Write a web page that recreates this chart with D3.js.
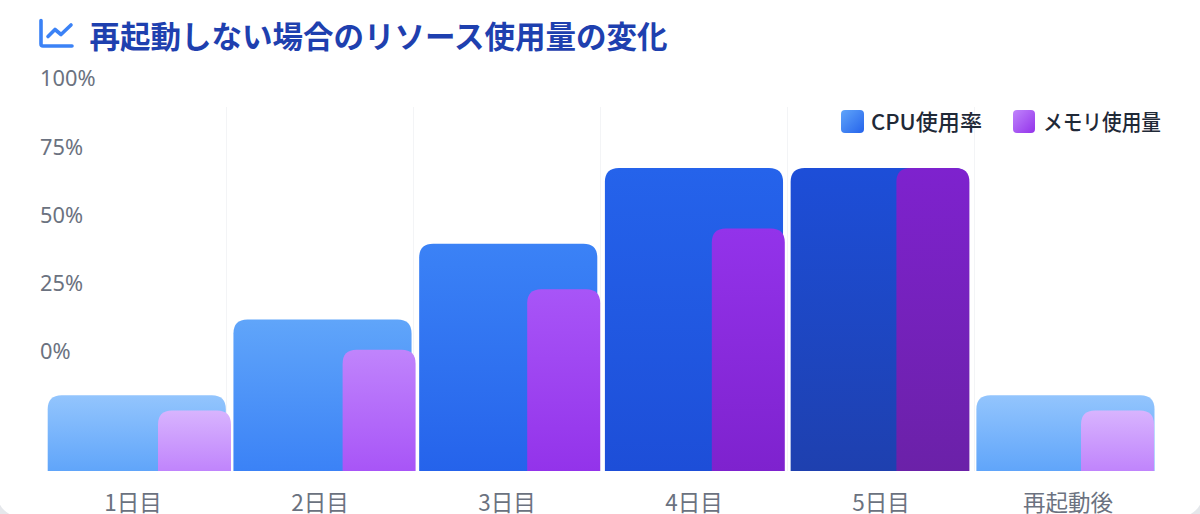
<!DOCTYPE html>
<html lang="ja"><head><meta charset="utf-8">
<script src="https://cdn.jsdelivr.net/npm/d3@7"></script>
<style>
html,body{margin:0;padding:0;background:#fff;overflow:hidden}
svg{display:block}
text{font-family:"Noto Sans CJK JP","Noto Sans",sans-serif}
</style></head><body>
<svg id="c" width="1200" height="514"></svg>
<script>
const categories=["1日目","2日目","3日目","4日目","5日目","再起動後"];
const cpuValues=[25,50,75,100,100,25];
const memValues=[20,40,60,80,100,20];
const tickValues=[0,25,50,75,100];
const titleText="再起動しない場合のリソース使用量の変化";
const cpuStops=[["#93c5fd","#60a5fa"],["#60a5fa","#3b82f6"],["#3b82f6","#2563eb"],["#2563eb","#1d4ed8"],["#1d4ed8","#1e40af"],["#93c5fd","#60a5fa"]];
const memStops=[["#d8b4fe","#c084fc"],["#c084fc","#a855f7"],["#a855f7","#9333ea"],["#9333ea","#7e22ce"],["#7e22ce","#6b21a8"],["#d8b4fe","#c084fc"]];
const legendItems=[["CPU使用率","#60a5fa","#2563eb"],["メモリ使用量","#c084fc","#9333ea"]];

const svg=d3.select("#c"),defs=svg.append("defs");
const baseY=471,topY=168;
const y=d3.scaleLinear().domain([0,100]).range([baseY,topY]);
const yLabel=d3.scaleLinear().domain([0,100]).range([351,78]);
const xCat=d3.scaleBand().domain(categories).range([39.5,1161.5]);
const xCpu=d3.scaleBand().domain(categories).range([47.7,1154.5]).paddingInner(0.041);
const xMem=d3.scaleBand().domain(categories).range([158,1154]).paddingInner(0.6046);

function grad(id,a,b,h){const g=defs.append("linearGradient").attr("id",id).attr("x1",0).attr("y1",0).attr("x2",h?1:0).attr("y2",1);
 g.append("stop").attr("offset",0).attr("stop-color",a);g.append("stop").attr("offset",1).attr("stop-color",b);}
categories.forEach((c,i)=>{grad("cpu"+i,cpuStops[i][0],cpuStops[i][1]);grad("mem"+i,memStops[i][0],memStops[i][1]);});
legendItems.forEach((d,i)=>grad("leg"+i,d[1],d[2],true));

// card corners
svg.append("rect").attr("width",1200).attr("height",514).attr("fill","#e5e7eb");
svg.append("rect").attr("x",-3).attr("y",-40).attr("width",1206).attr("height",557).attr("rx",24).attr("fill","#fff");

// title + icon
const ic=svg.append("g").attr("fill","none").attr("stroke","#3b82f6").attr("stroke-width",3.6).attr("stroke-linecap","round").attr("stroke-linejoin","round");
ic.append("path").attr("d","M41 20.5V44a2 2 0 0 0 2 2H72");
ic.append("path").attr("d","M48 36.5L55 29.5L61 34.5L71 25");
svg.append("text").attr("x",89.5).attr("y",47.5).attr("font-size",31).attr("font-weight",700).attr("fill","#1e40af")
 .attr("textLength",578).attr("lengthAdjust","spacingAndGlyphs").text(titleText);

// grid
svg.append("g").selectAll("line").data(categories.slice(0,-1)).join("line")
 .attr("x1",d=>xCat(d)+xCat.step()).attr("x2",d=>xCat(d)+xCat.step()).attr("y1",107).attr("y2",baseY)
 .attr("stroke","#f3f4f6").attr("stroke-width",1);

// value labels
const yAxis=d3.axisLeft(yLabel).tickValues(tickValues).tickFormat(d=>d+"%").tickSize(0).tickPadding(0);
const ya=svg.append("g").attr("transform","translate(40,0)").call(yAxis);
ya.select(".domain").remove();
ya.selectAll("text").attr("text-anchor","start").attr("x",0).attr("font-size",21.8).attr("fill","#6b7280").attr("dy","0.36em").style("font-family",'"Noto Sans",sans-serif');

// bars
function topRound(x,w,yy,h,r){return `M${x},${yy+h}V${yy+r}Q${x},${yy} ${x+r},${yy}H${x+w-r}Q${x+w},${yy} ${x+w},${yy+r}V${yy+h}Z`;}
svg.append("g").selectAll("path").data(categories).join("path")
 .attr("d",(d,i)=>topRound(xCpu(d),xCpu.bandwidth(),y(cpuValues[i]),baseY-y(cpuValues[i]),14))
 .attr("fill",(d,i)=>`url(#cpu${i})`);
svg.append("g").selectAll("path").data(categories).join("path")
 .attr("d",(d,i)=>topRound(xMem(d),xMem.bandwidth(),y(memValues[i]),baseY-y(memValues[i]),14))
 .attr("fill",(d,i)=>`url(#mem${i})`);

// category labels
const xAxis=d3.axisBottom(xCat).tickSize(0).tickPadding(0);
const xa=svg.append("g").attr("transform","translate(0,511)").call(xAxis);
xa.select(".domain").remove();
xa.selectAll("text").attr("y",0).attr("dy",0).attr("font-size",22.5).attr("fill","#6b7280");

// legend
const legendX=[841,1013],legendText=[871,1043],legendLen=[111,118];
legendItems.forEach((d,i)=>{
 svg.append("rect").attr("x",legendX[i]).attr("y",110).attr("width",i?22:23).attr("height",23).attr("rx",4).attr("fill",`url(#leg${i})`);
 svg.append("text").attr("x",legendText[i]).attr("y",130).attr("font-size",21.5).attr("font-weight",500).attr("fill","#1f2937")
  .attr("textLength",legendLen[i]).attr("lengthAdjust","spacingAndGlyphs").text(d[0]);
});
</script></body></html>
